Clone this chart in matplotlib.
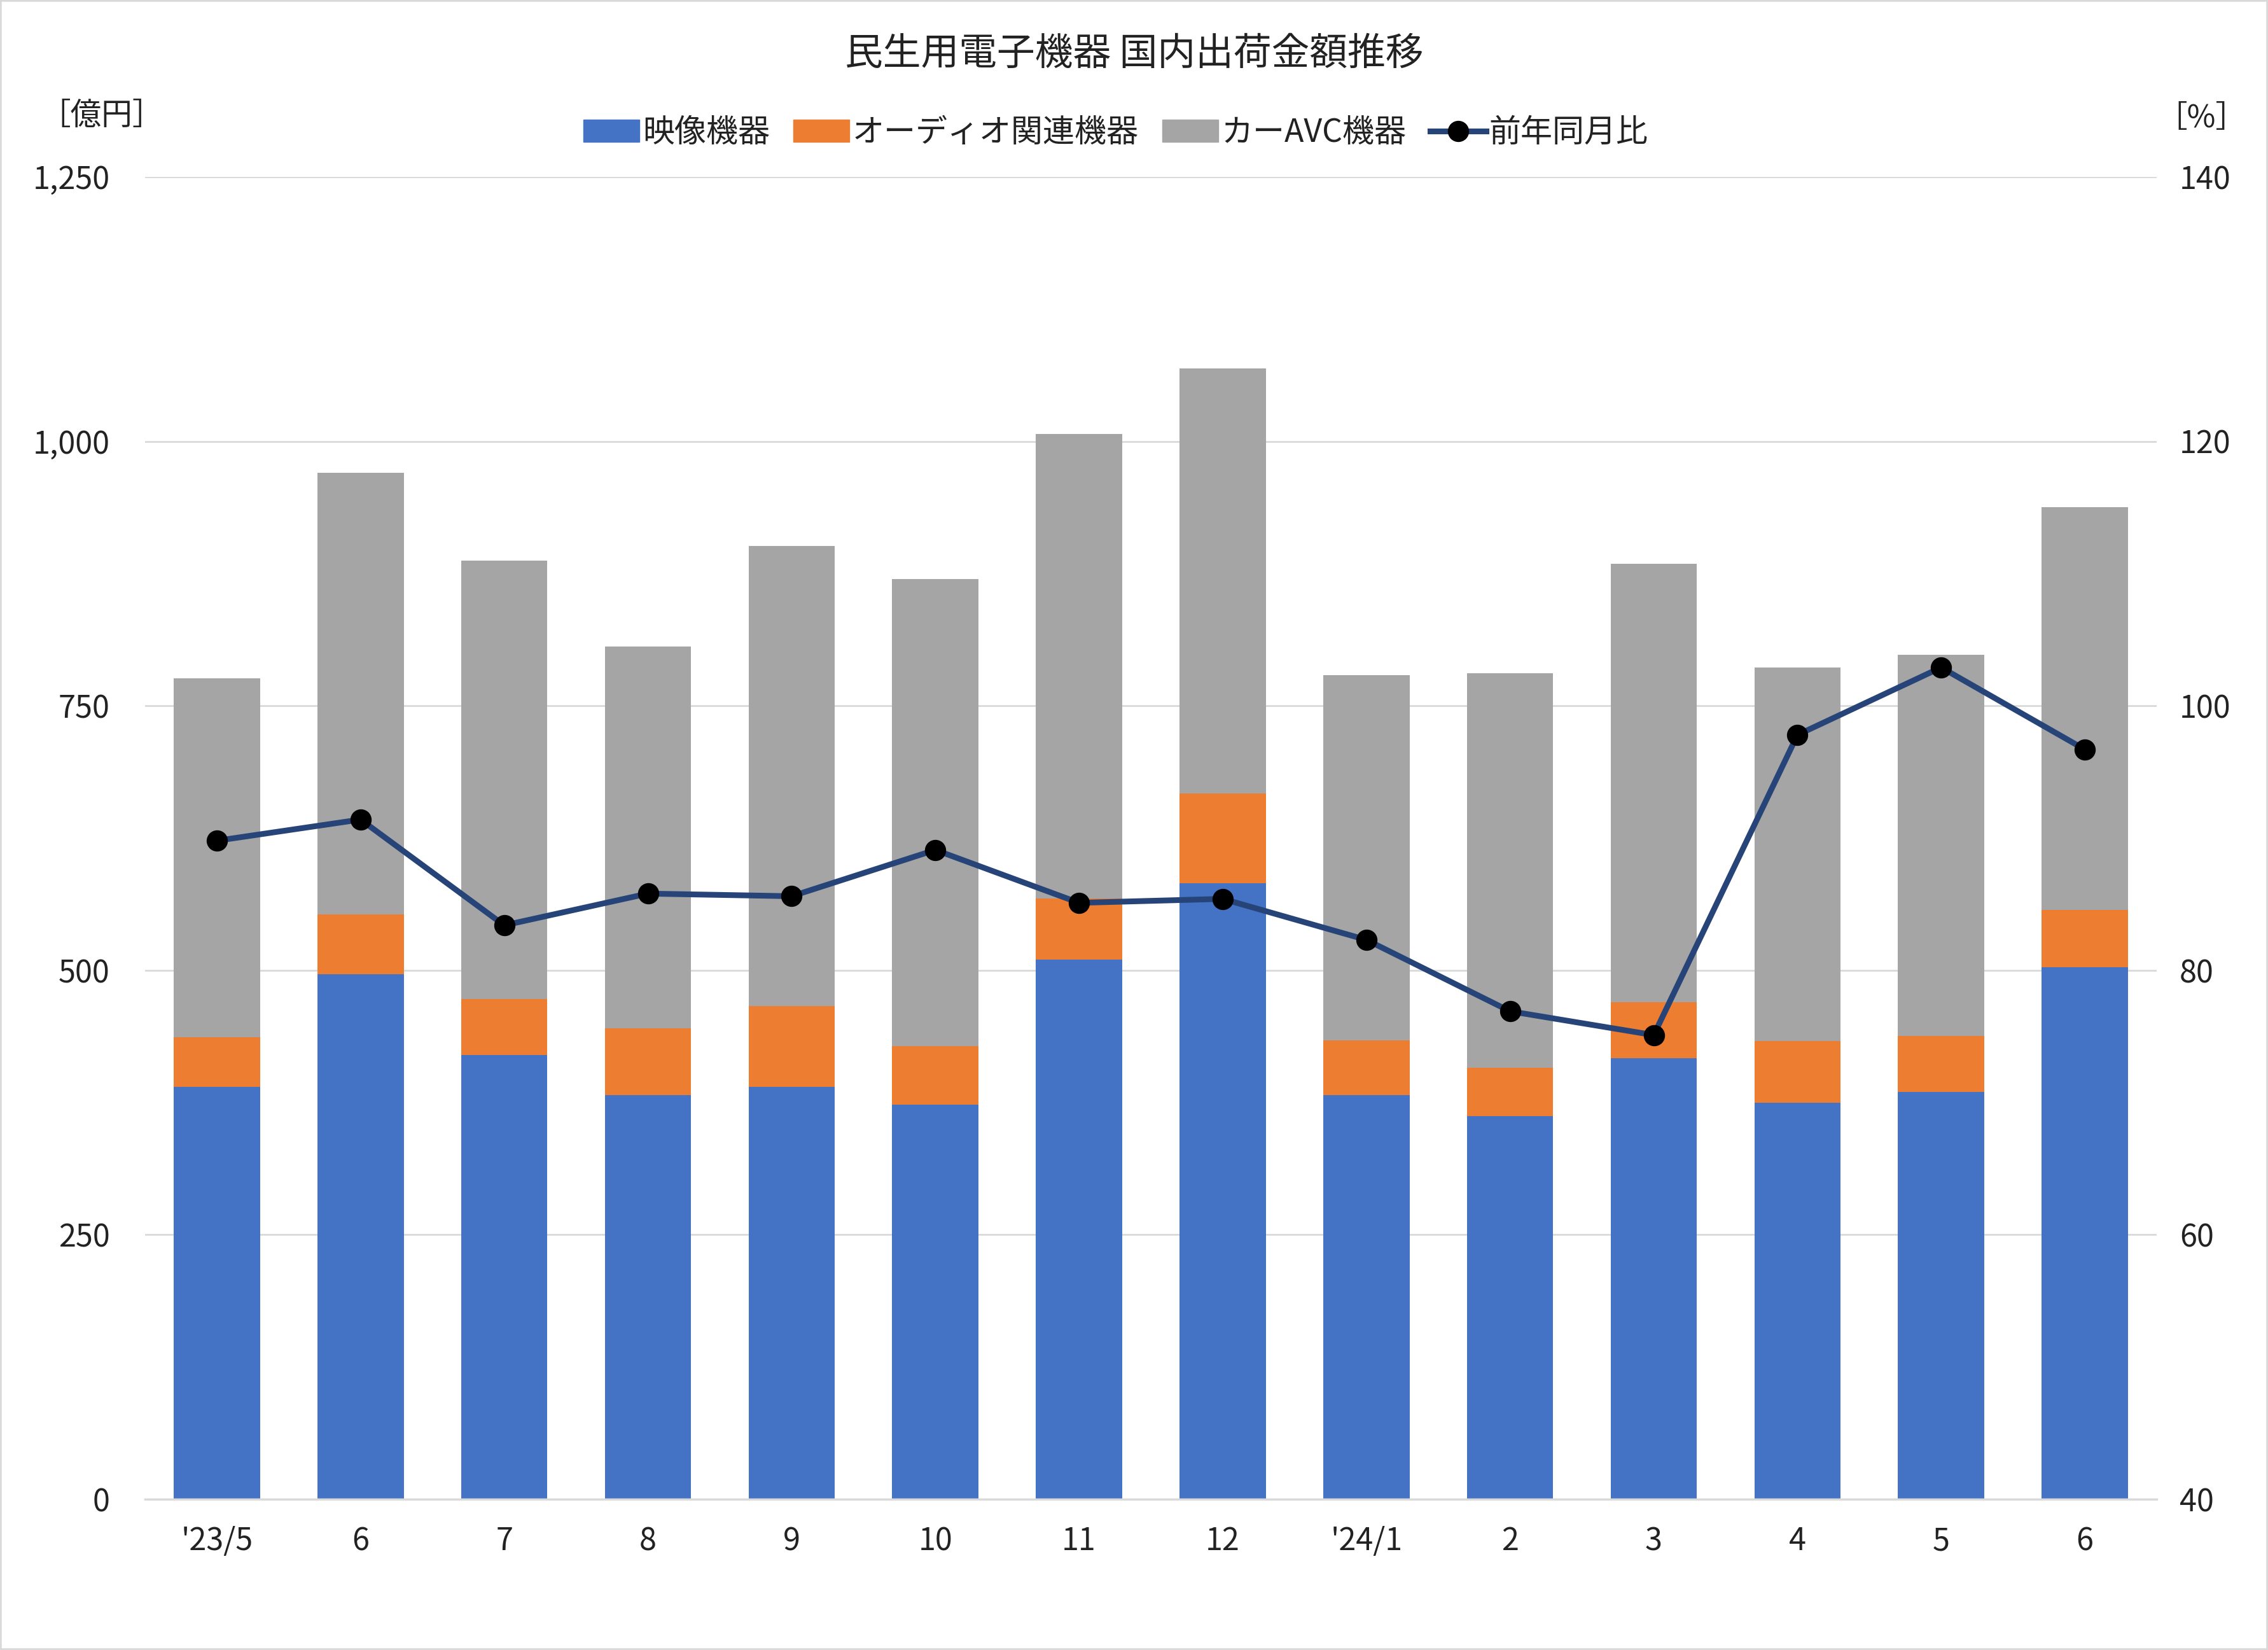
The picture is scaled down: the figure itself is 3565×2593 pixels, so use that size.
import matplotlib
matplotlib.use("Agg")
import matplotlib.pyplot as plt
from matplotlib.patches import Patch, Rectangle
from matplotlib.lines import Line2D
from matplotlib.ticker import FuncFormatter
import numpy as np

plt.rcParams['font.family'] = ['Noto Sans CJK JP', 'DejaVu Sans']

categories = ["'23/5", "6", "7", "8", "9", "10", "11", "12", "'24/1", "2", "3", "4", "5", "6"]
video = [390, 496, 420, 382, 390, 373, 510, 582, 382, 362, 417, 375, 385, 503]
audio = [47, 57, 53, 63, 76, 55, 58, 85, 52, 46, 53, 58, 53, 54]
car_avc = [339, 417, 414, 361, 435, 442, 439, 402, 345, 373, 414, 353, 360, 381]
yoy = [89.8, 91.4, 83.4, 85.8, 85.6, 89.1, 85.1, 85.4, 82.3, 76.9, 75.1, 97.8, 102.9, 96.7]

series_names = ["映像機器", "オーディオ関連機器", "カーAVC機器", "前年同月比"]
colors = ["#4472C4", "#ED7D31", "#A5A5A5"]
line_color = "#264478"
text_color = "#222222"

W, H = 3565, 2593
fig = plt.figure(figsize=(W / 100, H / 100), dpi=100)
ax = fig.add_axes([228 / W, 1 - 2356 / H, (3390 - 228) / W, (2356 - 278) / H])
ax2 = ax.twinx()

x = np.arange(len(categories))
v = np.array(video)
a = np.array(audio)
c = np.array(car_avc)
ax.bar(x, v, width=0.6, color=colors[0], zorder=2)
ax.bar(x, a, width=0.6, bottom=v, color=colors[1], zorder=2)
ax.bar(x, c, width=0.6, bottom=v + a, color=colors[2], zorder=2)

ax2.plot(x, yoy, color=line_color, lw=6.5, marker='o', markersize=23,
         markerfacecolor='black', markeredgecolor='black', zorder=3)

ax.set_xlim(-0.5, len(categories) - 0.5)
ax.set_ylim(0, 1250)
ax.set_yticks([0, 250, 500, 750, 1000, 1250])
ax.yaxis.set_major_formatter(FuncFormatter(lambda val, p: f"{int(val):,}"))
ax2.set_ylim(40, 140)
ax2.set_yticks([40, 60, 80, 100, 120, 140])

ax.grid(axis='y', color='#D9D9D9', lw=2, zorder=0)
ax.set_axisbelow(True)
for s in ['top', 'left', 'right']:
    ax.spines[s].set_visible(False)
    ax2.spines[s].set_visible(False)
ax2.spines['bottom'].set_visible(False)
ax.spines['bottom'].set_color('#D9D9D9')
ax.spines['bottom'].set_linewidth(2.5)

ax.set_xticks(x)
ax.set_xticklabels(categories)
ax.tick_params(axis='x', length=0, pad=30, labelsize=35, labelcolor=text_color)
ax.tick_params(axis='y', length=0, pad=40, labelsize=35, labelcolor=text_color)
ax2.tick_params(axis='y', length=0, pad=26, labelsize=35, labelcolor=text_color)

fig.text(0.5, 1 - 85 / H, "民生用電子機器 国内出荷金額推移", ha='center', va='center',
         fontsize=43, color=text_color)
fig.text(160 / W, 1 - 182 / H, "［億円］", ha='center', va='center', fontsize=35, color=text_color)
fig.text(3460 / W, 1 - 186 / H, "［%］", ha='center', va='center', fontsize=35, color=text_color)

handles = [Patch(color=colors[0]), Patch(color=colors[1]), Patch(color=colors[2]),
           Line2D([0], [0], color=line_color, lw=6.5, marker='o', markersize=23,
                  markerfacecolor='black', markeredgecolor='black')]
fig.legend(handles, series_names, loc='center', bbox_to_anchor=(0.492, 1 - 209 / H),
           ncol=4, frameon=False, fontsize=36, handlelength=1.75, handletextpad=0.1,
           columnspacing=0.75, labelcolor=text_color)

fig.patches.append(Rectangle((0, 0), 1, 1, transform=fig.transFigure, fill=False,
                             edgecolor='#D9D9D9', lw=4))

fig.savefig("out.png", dpi=100)
